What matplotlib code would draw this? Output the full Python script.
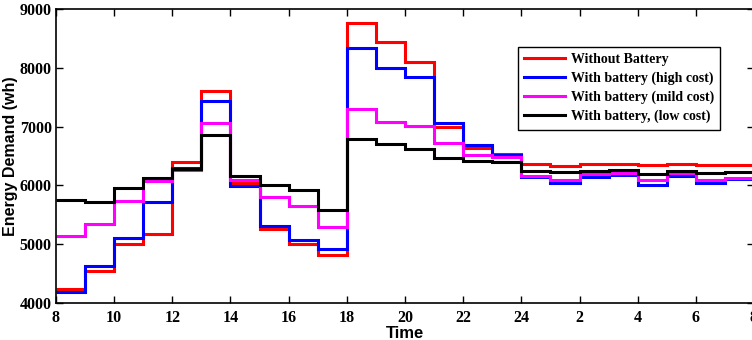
import matplotlib
matplotlib.use("Agg")
import matplotlib.pyplot as plt

# hour edges of each interval (8 am to 8 am next day)
hour_edges = list(range(8, 33))
tick_pos = list(range(8, 33, 2))
tick_labels = ["8", "10", "12", "14", "16", "18", "20", "22", "24", "2", "4", "6", "8"]

without_battery = [4240, 4545, 5000, 5170, 6390, 7610, 6045, 5255, 5000, 4810,
                   8765, 8440, 8105, 7000, 6630, 6530, 6360, 6335, 6360, 6370,
                   6340, 6365, 6340, 6350]
high_cost = [4195, 4635, 5100, 5710, 6290, 7435, 5995, 5305, 5065, 4925,
             8330, 8000, 7840, 7060, 6680, 6510, 6145, 6045, 6145, 6170,
             6000, 6155, 6035, 6105]
mild_cost = [5140, 5350, 5730, 6070, 6260, 7065, 6090, 5795, 5655, 5295,
             7300, 7075, 7010, 6715, 6510, 6490, 6160, 6090, 6200, 6215,
             6090, 6210, 6090, 6125]
low_cost = [5745, 5725, 5955, 6125, 6280, 6855, 6165, 6005, 5920, 5575,
            6790, 6705, 6615, 6470, 6415, 6390, 6245, 6220, 6250, 6255,
            6200, 6245, 6215, 6230]

series = [
    ("Without Battery", without_battery, "#ff0000"),
    ("With battery (high cost)", high_cost, "#0000ff"),
    ("With battery (mild cost)", mild_cost, "#ff00ff"),
    ("With battery, (low cost)", low_cost, "#000000"),
]

fig = plt.figure(figsize=(7.52, 3.4), dpi=100)
ax = fig.add_axes([56 / 752, 1 - 303 / 340, 698 / 752, 294 / 340])

for label, vals, color in series:
    ax.stairs(vals, hour_edges, baseline=None, color=color, linewidth=2.2, label=label)

ax.set_xlim(8, 32)
ax.set_ylim(4000, 9000)
ax.set_xticks(tick_pos)
ax.set_xticklabels(tick_labels)
ax.set_yticks(range(4000, 9001, 1000))

for lbl in ax.get_xticklabels() + ax.get_yticklabels():
    lbl.set_fontfamily("Liberation Serif")
    lbl.set_fontweight("bold")
    lbl.set_fontsize(11.5)

ax.tick_params(direction="in", top=True, right=True, length=5, width=1)
ax.tick_params(axis="x", pad=5)
ax.tick_params(axis="y", pad=3)
for sp in ax.spines.values():
    sp.set_linewidth(1.2)

ax.set_xlabel("Time", family="Liberation Sans", weight="bold", fontsize=12, labelpad=0)
ax.set_ylabel("Energy Demand (wh)", family="Liberation Sans", weight="bold", fontsize=11.5, labelpad=1)

leg = ax.legend(loc="upper left", bbox_to_anchor=(462 / 698, 1 - 38 / 294),
                prop={"family": "Liberation Serif", "weight": "bold", "size": 10},
                frameon=True, fancybox=False, edgecolor="black", framealpha=1,
                handlelength=2.9, borderpad=0.45, labelspacing=0.4, handletextpad=0.45,
                borderaxespad=0)
leg.get_frame().set_linewidth(1.0)

fig.savefig("out.png", dpi=100)
